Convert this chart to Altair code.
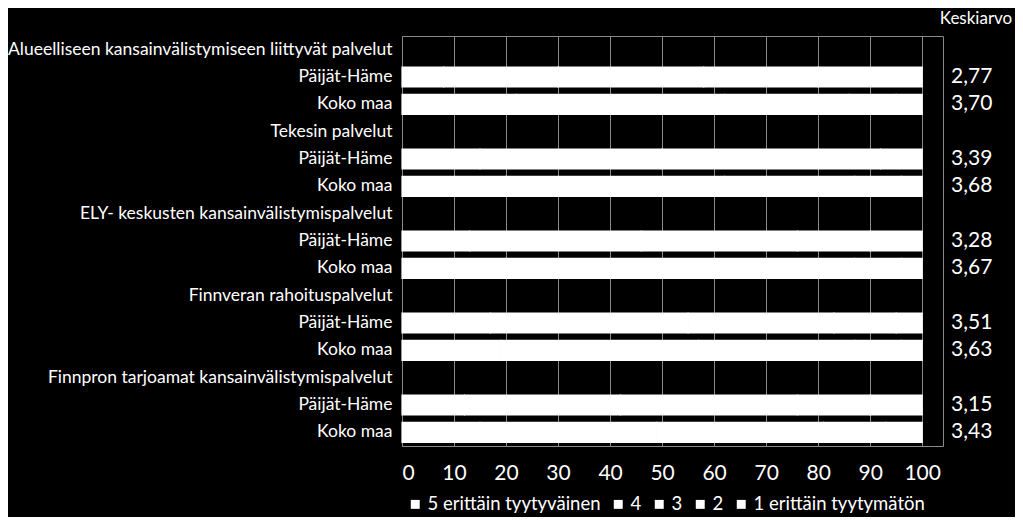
import altair as alt
import pandas as pd

groups = [
    "Alueelliseen kansainvälistymiseen liittyvät palvelut",
    "Tekesin palvelut",
    "ELY- keskusten kansainvälistymispalvelut",
    "Finnveran rahoituspalvelut",
    "Finnpron tarjoamat kansainvälistymispalvelut",
]
regions = ["Päijät-Häme", "Koko maa"]
categories = ["5 erittäin tyytyväinen", "4", "3", "2", "1 erittäin tyytymätön"]

# mean ratings (Keskiarvo), order: group x region
means = [2.77, 3.70, 3.39, 3.68, 3.28, 3.67, 3.51, 3.63, 3.15, 3.43]

# estimated shares (%) per category 5..1 (all segments drawn white in the original)
shares = [
    [8, 22, 28, 22, 20],
    [22, 40, 24, 9, 5],
    [15, 35, 30, 12, 8],
    [20, 42, 25, 9, 4],
    [13, 33, 30, 14, 10],
    [20, 40, 27, 9, 4],
    [17, 38, 28, 12, 5],
    [19, 38, 30, 9, 4],
    [12, 30, 34, 14, 10],
    [15, 34, 32, 12, 7],
]

keys = []
bar_rows = []
mean_rows = []
i = 0
k = 0
for g in groups:
    keys.append(f"{i:02d}|{g}")
    i += 1
    for r in regions:
        key = f"{i:02d}|{r}"
        keys.append(key)
        for c, v in zip(categories, shares[k]):
            bar_rows.append({"row": key, "cat": c, "order": categories.index(c), "pct": v})
        mean_rows.append({"row": key, "mean": means[k]})
        i += 1
        k += 1

bars_df = pd.DataFrame(bar_rows)
means_df = pd.DataFrame(mean_rows)

W, H = 541, 410
FONT = "Lato"

yscale = alt.Scale(domain=keys, paddingInner=0.27, paddingOuter=0.135)

bars = alt.Chart(bars_df).mark_bar(stroke="white", strokeWidth=1.2).encode(
    x=alt.X(
        "pct:Q",
        stack="zero",
        scale=alt.Scale(domain=[0, 104], nice=False),
        axis=alt.Axis(
            title=None,
            values=list(range(0, 101, 10)),
            labelColor="white",
            labelFontSize=21,
            labelFont=FONT,
            ticks=False,
            domain=False,
            labelPadding=16,
            grid=True,
            gridColor="#8a8a8a",
            gridWidth=1,
        ),
    ),
    y=alt.Y(
        "row:N",
        scale=yscale,
        axis=alt.Axis(
            title=None,
            labelExpr="split(datum.label, '|')[1]",
            labelColor="white",
            labelFontSize=17.5,
            labelFont=FONT,
            labelLimit=420,
            ticks=False,
            domain=False,
            labelPadding=10,
            grid=False,
        ),
    ),
    color=alt.Color(
        "cat:N",
        scale=alt.Scale(domain=categories, range=["white"] * 5),
        legend=alt.Legend(
            title=None,
            orient="none",
            legendX=4,
            legendY=459,
            direction="horizontal",
            symbolType="square",
            symbolSize=80,
            symbolStrokeWidth=0,
            labelColor="white",
            labelFontSize=18.5,
            labelFont=FONT,
            labelLimit=300,
            columnPadding=8,
            symbolOffset=0,
            labelOffset=3,
        ),
    ),
    order=alt.Order("order:Q"),
)

mean_text = alt.Chart(means_df).transform_calculate(
    label="replace(format(datum.mean, '.2f'), '.', ',')"
).mark_text(align="left", baseline="middle", color="white", fontSize=21, font=FONT).encode(
    x=alt.value(W + 8),
    y=alt.Y("row:N", scale=yscale),
    text="label:N",
)

header = alt.Chart(pd.DataFrame({"t": ["Keskiarvo"]})).mark_text(
    align="center", baseline="middle", color="white", fontSize=17, font=FONT
).encode(x=alt.value(W + 33), y=alt.value(-17), text="t:N")

chart = alt.layer(bars, mean_text, header).properties(
    width=W,
    height=H,
    background="black",
    padding={"left": 394, "top": 28, "right": 72, "bottom": 71},
    autosize=alt.AutoSizeParams(type="none"),
).configure_view(stroke="#8a8a8a", strokeWidth=1)

chart.save("out.html", embed_options={"renderer": "svg", "actions": False})
